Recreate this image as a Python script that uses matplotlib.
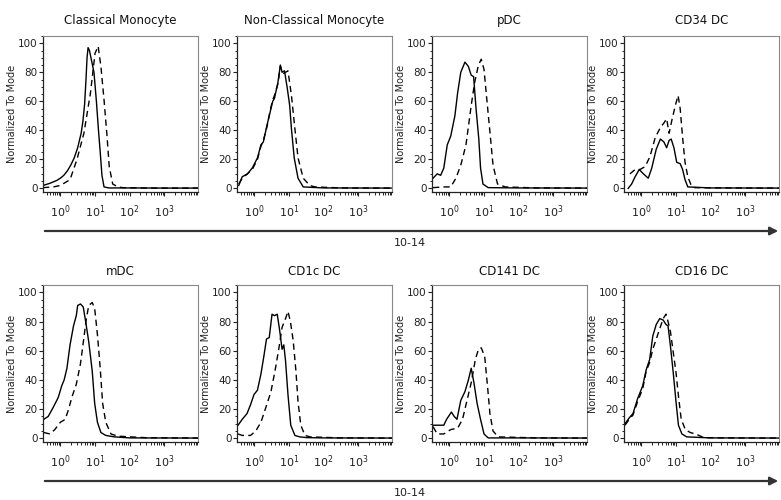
import numpy as np
import matplotlib
matplotlib.use('Agg')
import matplotlib.pyplot as plt
from matplotlib.ticker import FixedLocator, MultipleLocator
from matplotlib.patches import FancyArrowPatch

plt.rcParams['font.family'] = ['DejaVu Sans']

titles = ['Classical Monocyte', 'Non-Classical Monocyte', 'pDC', 'CD34 DC',
          'mDC', 'CD1c DC', 'CD141 DC', 'CD16 DC']
axis_label = '10-14'
y_label = 'Normalized To Mode'

# x values are log10 of the fluorescence, y values are % of mode
classical_solid_x = [-0.5, -0.3, -0.1, 0.0, 0.1, 0.2, 0.3, 0.4, 0.5, 0.6, 0.65, 0.7, 0.74, 0.77,
                     0.8, 0.84, 0.9, 0.97, 1.04, 1.1, 1.15, 1.2, 1.26, 1.4, 2.0, 3.0, 3.97]
classical_solid_y = [2, 3.5, 5.5, 7, 9, 12, 16, 21, 28, 38, 46, 58, 75, 90,
                     97, 95, 88, 80, 60, 40, 25, 9, 1, 0.3, 0.3, 0.2, 0.2]
classical_dash_x = [-0.5, -0.2, 0.0, 0.28, 0.48, 0.68, 0.87, 1.0, 1.09, 1.17, 1.26, 1.34,
                    1.41, 1.51, 1.66, 1.8, 2.5, 3.97]
classical_dash_y = [0.5, 1, 2, 6, 20, 38, 66, 93, 98, 84, 61, 38, 15, 3, 1, 0.5, 0.2, 0.2]

nonclass_solid_x = [-0.45, -0.35, -0.2, -0.06, 0.09, 0.19, 0.26, 0.36, 0.46, 0.53, 0.58, 0.68,
                    0.75, 0.8, 0.87, 0.95, 1.02, 1.07, 1.15, 1.26, 1.41, 2.0, 3.97]
nonclass_solid_y = [2, 8, 10, 14, 21, 30, 32, 43, 53, 60, 62, 73,
                    85, 80, 81, 69, 57, 41, 21, 7, 1, 0.3, 0.2]
nonclass_dash_x = [-0.45, -0.35, -0.2, -0.06, 0.09, 0.19, 0.26, 0.36, 0.46, 0.53, 0.58, 0.68,
                   0.75, 0.82, 0.9, 0.97, 1.07, 1.17, 1.26, 1.41, 1.6, 1.75, 2.5, 3.97]
nonclass_dash_y = [3, 7, 10, 13, 20, 29, 33, 42, 54, 61, 64, 72,
                   84, 79, 80, 81, 64, 41, 21, 7, 2, 1, 0.3, 0.2]

pdc_solid_x = [-0.47, -0.35, -0.25, -0.16, -0.06, 0.04, 0.16, 0.24, 0.33, 0.45, 0.55, 0.63,
               0.7, 0.77, 0.85, 0.9, 0.97, 1.12, 2.0, 3.97]
pdc_solid_y = [7, 10, 9, 14, 30, 36, 50, 66, 80, 87, 84, 78,
               77, 55, 34, 14, 3, 0.5, 0.3, 0.2]
pdc_dash_x = [-0.47, -0.16, 0.04, 0.19, 0.33, 0.48, 0.63, 0.73, 0.84, 0.92, 1.0, 1.07,
              1.17, 1.26, 1.39, 1.61, 2.5, 3.97]
pdc_dash_y = [0.5, 1, 1, 7, 16, 30, 57, 73, 85, 89, 82, 64,
              39, 16, 3, 1, 0.3, 0.2]

cd34_solid_x = [-0.38, -0.28, -0.18, -0.06, 0.06, 0.2, 0.3, 0.43, 0.55, 0.65, 0.73, 0.8,
                0.86, 0.94, 1.02, 1.12, 1.19, 1.26, 1.34, 2.0, 3.97]
cd34_solid_y = [0, 3, 8, 13, 10, 7, 14, 27, 34, 32, 28, 33,
                34, 28, 18, 17, 13, 6, 1, 0.3, 0.2]
cd34_dash_x = [-0.33, -0.18, -0.04, 0.11, 0.25, 0.4, 0.55, 0.65, 0.73, 0.8, 0.89, 0.99,
               1.06, 1.12, 1.19, 1.26, 1.34, 1.44, 1.54, 2.5, 3.97]
cd34_dash_y = [10, 13, 13, 15, 22, 35, 42, 45, 48, 38, 48, 58,
               64, 55, 35, 18, 8, 2, 0.5, 0.3, 0.2]

mdc_solid_x = [-0.48, -0.35, -0.21, -0.06, 0.04, 0.11, 0.19, 0.28, 0.38, 0.46, 0.5, 0.58,
               0.66, 0.73, 0.82, 0.92, 0.99, 1.07, 1.17, 1.31, 1.56, 2.0, 3.97]
mdc_solid_y = [13, 15, 21, 28, 36, 40, 48, 64, 77, 84, 91, 92,
               90, 80, 66, 46, 24, 11, 4, 2, 1, 0.3, 0.2]
mdc_dash_x = [-0.48, -0.3, -0.16, 0.0, 0.14, 0.24, 0.33, 0.46, 0.58, 0.68, 0.75, 0.82,
              0.92, 0.99, 1.07, 1.15, 1.22, 1.31, 1.46, 1.66, 2.5, 3.97]
mdc_dash_y = [4, 3, 6, 11, 13, 20, 28, 37, 51, 69, 82, 91,
              93, 89, 71, 48, 24, 11, 3, 1.5, 0.4, 0.2]

cd1c_solid_x = [-0.47, -0.35, -0.21, -0.11, -0.01, 0.09, 0.19, 0.28, 0.35, 0.43, 0.51, 0.58,
                0.66, 0.73, 0.8, 0.85, 0.9, 0.97, 1.05, 1.17, 1.31, 1.51, 2.0, 3.97]
cd1c_solid_y = [9, 13, 17, 23, 30, 33, 44, 57, 68, 69, 85, 84,
                85, 74, 61, 64, 53, 30, 9, 2, 1, 0.5, 0.3, 0.2]
cd1c_dash_x = [-0.47, -0.35, -0.11, 0.04, 0.19, 0.33, 0.48, 0.61, 0.71, 0.8, 0.9, 0.97,
               1.04, 1.12, 1.2, 1.26, 1.34, 1.46, 1.61, 2.5, 3.97]
cd1c_dash_y = [3, 2, 2, 5, 11, 21, 32, 48, 62, 76, 82, 87,
               80, 67, 46, 25, 9, 2, 1, 0.3, 0.2]

cd141_solid_x = [-0.47, -0.35, -0.16, -0.08, 0.06, 0.14, 0.22, 0.33, 0.45, 0.55, 0.63, 0.71,
                 0.8, 0.9, 1.0, 1.12, 2.0, 3.97]
cd141_solid_y = [9, 9, 9, 13, 18, 15, 13, 26, 32, 40, 48, 38,
                 24, 13, 3, 0.3, 0.3, 0.2]
cd141_dash_x = [-0.47, -0.35, -0.16, 0.04, 0.24, 0.38, 0.51, 0.63, 0.75, 0.84, 0.92, 1.02,
                1.1, 1.17, 1.26, 1.41, 2.5, 3.97]
cd141_dash_y = [8, 3, 3, 6, 7, 13, 26, 38, 54, 61, 62, 56,
                36, 17, 5, 1, 0.3, 0.2]

cd16_solid_x = [-0.47, -0.35, -0.24, -0.11, 0.04, 0.14, 0.24, 0.33, 0.43, 0.53, 0.63, 0.71,
                0.77, 0.84, 0.92, 1.0, 1.07, 1.17, 1.31, 2.0, 3.97]
cd16_solid_y = [10, 14, 17, 27, 36, 47, 54, 70, 78, 82, 81, 78,
                77, 63, 45, 25, 9, 3, 1, 0.3, 0.2]
cd16_dash_x = [-0.47, -0.35, -0.24, -0.11, 0.04, 0.14, 0.24, 0.33, 0.43, 0.53, 0.63, 0.71,
               0.77, 0.84, 0.92, 1.0, 1.07, 1.15, 1.27, 1.41, 1.56, 1.66, 1.8, 2.5, 3.97]
cd16_dash_y = [9, 13, 16, 25, 34, 46, 52, 61, 68, 75, 82, 85,
               80, 73, 59, 45, 29, 13, 6, 4, 3, 2, 0.5, 0.3, 0.2]

solid_x = [classical_solid_x, nonclass_solid_x, pdc_solid_x, cd34_solid_x,
           mdc_solid_x, cd1c_solid_x, cd141_solid_x, cd16_solid_x]
solid_y = [classical_solid_y, nonclass_solid_y, pdc_solid_y, cd34_solid_y,
           mdc_solid_y, cd1c_solid_y, cd141_solid_y, cd16_solid_y]
dash_x = [classical_dash_x, nonclass_dash_x, pdc_dash_x, cd34_dash_x,
          mdc_dash_x, cd1c_dash_x, cd141_dash_x, cd16_dash_x]
dash_y = [classical_dash_y, nonclass_dash_y, pdc_dash_y, cd34_dash_y,
          mdc_dash_y, cd1c_dash_y, cd141_dash_y, cd16_dash_y]

W, H = 781, 500
fig = plt.figure(figsize=(W / 100, H / 100), dpi=100)

lefts = [43, 237, 432, 624]
rows = [(36, 192), (285, 442)]  # (top, bottom) in pixels
panel_w = 155

minor_x = [m * 10.0 ** d for d in range(-1, 4) for m in range(2, 10)]

for i in range(8):
    r, c = divmod(i, 4)
    top, bot = rows[r]
    ax = fig.add_axes([lefts[c] / W, 1 - bot / H, panel_w / W, (bot - top) / H])
    ax.plot(10 ** np.array(solid_x[i]), solid_y[i], color='black', lw=1.0)
    ax.plot(10 ** np.array(dash_x[i]), dash_y[i], color='black', lw=1.0,
            dashes=(4.5, 3))
    ax.set_xscale('log')
    ax.set_xlim(10 ** -0.5, 10 ** 3.97)
    ax.set_ylim(-2.5, 105)
    ax.xaxis.set_major_locator(FixedLocator([1, 10, 100, 1000]))
    ax.xaxis.set_minor_locator(FixedLocator(minor_x))
    ax.yaxis.set_major_locator(MultipleLocator(20))
    ax.yaxis.set_minor_locator(MultipleLocator(5))
    ax.tick_params(axis='both', which='major', length=3, width=0.8, labelsize=7.5,
                   colors='#222222')
    ax.tick_params(axis='x', which='major', labelsize=8, pad=5)
    ax.tick_params(axis='both', which='minor', length=1.8, width=0.6)
    ax.tick_params(axis='y', pad=1)
    for s in ['top', 'right']:
        ax.spines[s].set_color('#888888')
        ax.spines[s].set_linewidth(0.8)
    for s in ['left', 'bottom']:
        ax.spines[s].set_color('#222222')
        ax.spines[s].set_linewidth(0.9)
    ax.set_ylabel(y_label, fontsize=7, labelpad=0.5, color='#222222')
    ax.set_title(titles[i], fontsize=8.5, pad=9 if r == 0 else 7, color='#111111')

# axis arrows under each row
for y_arrow, y_text in [(231, 243), (481, 493)]:
    arr = FancyArrowPatch((42 / W, 1 - y_arrow / H), (1.0, 1 - y_arrow / H),
                          transform=fig.transFigure, arrowstyle='-|>',
                          mutation_scale=12, color='#333333', lw=1.6)
    fig.add_artist(arr)
    fig.text(410 / W, 1 - y_text / H, axis_label, ha='center', va='center',
             fontsize=8, color='#222222')

fig.savefig('out.png', dpi=100)
